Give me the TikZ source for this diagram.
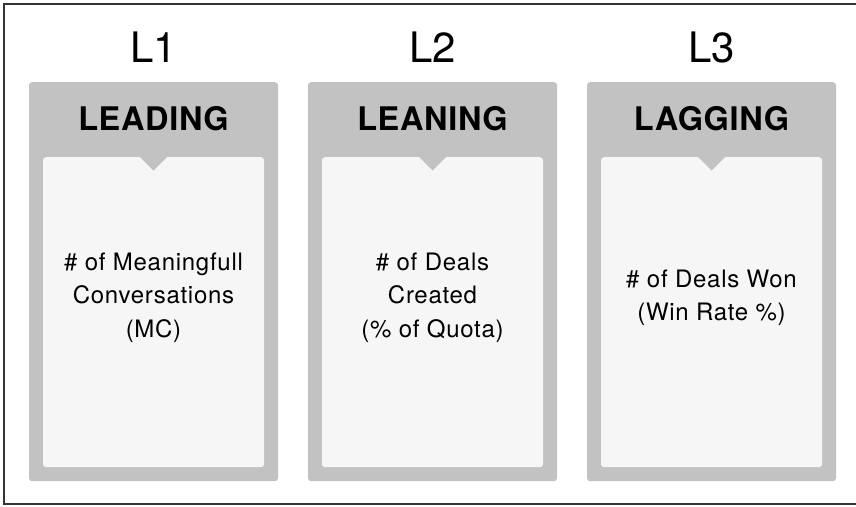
\documentclass[tikz,border=0pt]{standalone}
\usepackage{fontspec}
\setmainfont{TeX Gyre Heros}
\newfontfamily\bodyfont[LetterSpace=3]{TeX Gyre Heros}
\newfontfamily\headfont[LetterSpace=2]{TeX Gyre Heros}
\definecolor{cardgray}{HTML}{C2C2C2}
\definecolor{innerwhite}{HTML}{F6F6F6}
\definecolor{framegray}{HTML}{333333}
\begin{document}
\begin{tikzpicture}[x=1pt,y=-1pt,
  card/.style={fill=cardgray,rounded corners=3pt,minimum width=249pt,minimum height=399pt,inner sep=0pt,anchor=north},
  inner/.style={fill=innerwhite,rounded corners=3pt,minimum width=221pt,minimum height=310pt,inner sep=0pt,anchor=north},
  notch/.style={fill=cardgray},
  level/.style={font=\fontsize{42}{42}\selectfont,anchor=base,inner sep=0pt},
  head/.style={font=\headfont\fontsize{32.5}{32.5}\selectfont\bfseries,anchor=base,inner sep=0pt},
  body/.style={font=\bodyfont\fontsize{24}{24}\selectfont,anchor=base,inner sep=0pt}]
\useasboundingbox (0,0) rectangle (856,506);
\clip (0,0) rectangle (856,506);
\fill[white] (0,0) rectangle (856,506);
\draw[framegray,line width=2pt] (4,4) rectangle (870,504);
\foreach \i/\cx/\lv/\hd in {1/153.5/L1/LEADING,2/432.5/L2/LEANING,3/711.5/L3/LAGGING}{
  \node[card] (card\i) at (\cx,82) {};
  \node[inner] (inner\i) at (\cx,157) {};
  \fill[notch] (\cx-13.5,157) -- (\cx+13.5,157) -- (\cx,170.5) -- cycle;
  \node[level] (lvl\i) at (\cx,62) {\lv};
  \node[head] (head\i) at (\cx,130.5) {\hd};
}
\node[body] (t1a) at (153.5,270) {\# of Meaningfull};
\node[body] (t1b) at (153.5,303.5) {Conversations};
\node[body] (t1c) at (153.5,337) {(MC)};
\node[body] (t2a) at (432.5,270) {\# of Deals};
\node[body] (t2b) at (432.5,303.5) {Created};
\node[body] (t2c) at (432.5,337) {(\% of Quota)};
\node[body] (t3a) at (711.5,287) {\# of Deals Won};
\node[body] (t3b) at (711.5,320.5) {(Win Rate \%)};
\end{tikzpicture}
\end{document}
